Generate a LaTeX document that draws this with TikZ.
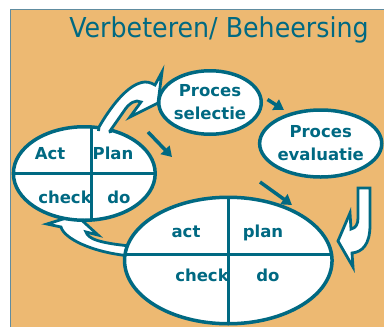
\documentclass[tikz,border=0pt]{standalone}
\usepackage{fontspec}
\setmainfont{DejaVu Sans}
\usetikzlibrary{shapes.geometric,arrows.meta}
\definecolor{pdcateal}{RGB}{0,105,130}
\definecolor{slideorange}{RGB}{237,185,114}
\definecolor{slideframe}{RGB}{96,140,160}

\begin{document}
\begin{tikzpicture}[x=1bp,y=-1bp,
	bubble/.style={ellipse, draw=pdcateal, line width=3.5bp, fill=white, inner sep=0pt, align=center, text=pdcateal, font=\bfseries\fontsize{16.5bp}{23bp}\selectfont},
	quarter/.style={pdcateal, line width=3bp},
	word/.style={anchor=base, text=pdcateal, inner sep=0pt, font=\bfseries\fontsize{16.5bp}{20bp}\selectfont},
	flow/.style={pdcateal, line width=3.5bp, -{Triangle[length=10bp,width=12bp]}},
	hook/.style={draw=pdcateal, fill=white, line width=2.8bp, line join=miter}]
	\useasboundingbox (0,0) rectangle (384,327);
	\fill[slideorange] (10,9.5) rectangle (384,327);
	\draw[slideframe, line width=1bp] (10,327) -- (10,9.5) -- (384,9.5);
	\node[anchor=base, text=pdcateal, inner sep=0pt, font=\fontsize{27.4bp}{30bp}\selectfont] (title) at (219,37) {\scalebox{0.924}[1]{Verbeteren/ Beheersing}};
	
	% hook back to the small cycle
	\draw[hook] (130,246) .. controls (100,243) and (88,239) .. (86,232) -- (98,235) -- (76,215) -- (47,224) -- (61,227) .. controls (64,238) and (90,252) .. (130,256) -- cycle;
	
	% large cycle
	\node[bubble, minimum width=207.5bp, minimum height=126.5bp] (pdcaL) at (228.3,260.5) {};
	\begin{scope}
		\clip (228.3,260.5) ellipse [x radius=103.75, y radius=63.25];
		\draw[quarter] (228,190) -- (228,330);
		\draw[quarter] (120,254) -- (340,254);
	\end{scope}
	\node[word] (act2) at (186,237) {act};
	\node[word] (plan2) at (263,237) {plan};
	\node[word] (check2) at (202,281) {check};
	\node[word] (do2) at (268,281) {do};
	
	% small cycle
	\node[bubble, minimum width=141.8bp, minimum height=93.5bp] (pdcaS) at (84.3,173.5) {};
	\begin{scope}
		\clip (84.3,173.5) ellipse [x radius=70.9, y radius=46.75];
		\draw[quarter] (91,120) -- (91,230);
		\draw[quarter] (5,173) -- (165,173);
	\end{scope}
	\node[word] (act1) at (50,159) {Act};
	\node[word] (plan1) at (113,159) {Plan};
	\node[word] (check1) at (65,203) {check};
	\node[word] (do1) at (119,203) {do};
	
	% hook up to the selection
	\draw[hook] (98.5,131) -- (99,127) .. controls (110,108) and (128,83) .. (145,82) .. controls (150,82) and (153,84) .. (155,85) -- (162,72) -- (158,103) -- (130,117) -- (141,102) .. controls (136,99) and (129,103) .. (124,111) -- (110,131) -- (110.5,133);
	
	% process steps
	\node[bubble, minimum width=102.5bp, minimum height=63.5bp] (sel) at (210,102.5) {Proces\\selectie};
	\node[bubble, minimum width=121bp, minimum height=67bp] (eval) at (320.7,143.5) {Proces\\evaluatie};
	
	% hook down to the large cycle
	\draw[hook] (358,188) -- (370,188) -- (370,225) .. controls (370,245) and (362,252) .. (352,253) -- (353,267) -- (338,241) -- (350,213) -- (351,229) .. controls (356,228) and (358,224) .. (358,218) -- cycle;
	
	% arrows
	\coordinate (a1s) at (148,132);
	\coordinate (a1e) at (172,157);
	\coordinate (a2s) at (267.5,99.5);
	\coordinate (a2e) at (284,110);
	\coordinate (a3s) at (260,182);
	\coordinate (a3e) at (292,205);
	\draw[flow] (a1s) -- (a1e);
	\draw[flow] (a2s) -- (a2e);
	\draw[flow] (a3s) -- (a3e);
\end{tikzpicture}
\end{document}
